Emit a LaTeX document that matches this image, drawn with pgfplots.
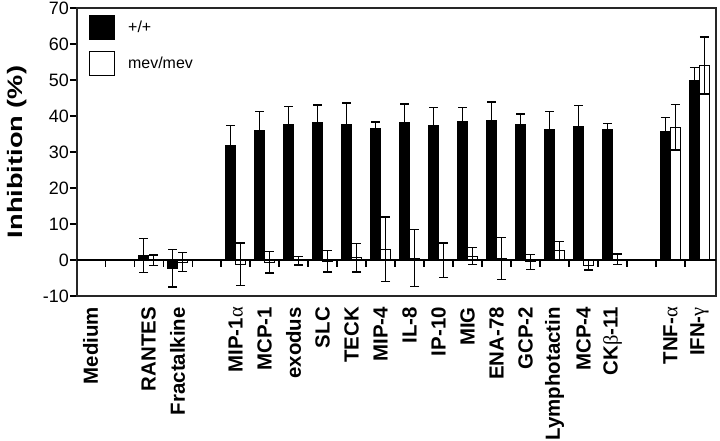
\documentclass[border=0pt]{standalone}
\usepackage{fontspec}
\setmainfont{Liberation Sans}
\newfontfamily\grk{Liberation Serif}
\usepackage{graphicx}
\usepackage{pgfplots}
\pgfplotsset{compat=1.18}
\usepackage{pgfplotstable}

\pgfplotstableread{
x  b      be    w      we
0  0      0     0      0
2  1.3    4.7   -0.1   1.5
3  -2.3   5.2   -0.6   2.6
5  31.9   5.5   -1.2   5.9
6  36.1   5.2   -0.65  3.0
7  37.7   5.0   -0.2   1.2
8  38.1   4.9   -0.3   3.0
9  37.7   5.9   0.6    3.9
10 36.4   1.9   3.0    8.95
11 38.1   5.2   0.55   7.85
12 37.4   5.0   -0.1   4.8
13 38.4   4.0   1.05   2.35
14 38.7   5.2   0.4    5.8
15 37.6   3.0   -0.55  2.05
16 36.25  5.0   2.6    2.5
17 37.2   5.7   -1.5   1.3
18 36.25  1.7   0.2    1.45
20 35.6   3.9   36.9   6.3
21 49.9   3.5   54.0   7.9
}\datatable

\newcommand{\gk}[1]{{\grk\mdseries #1}}

\begin{document}
\begin{tikzpicture}
\begin{axis}[
  scale only axis, width=639bp, height=288bp,
  xmin=-0.47, xmax=21.57, ymin=-10, ymax=70,
  ytick={-10,0,10,20,30,40,50,60,70},
  ytick pos=left,
  tick align=outside,
  major tick length=7bp,
  y tick style={line width=1.2bp, black},
  x tick style={draw=none},
  axis line style={line width=1.3bp, black!85},
  /pgf/number format/assume math mode=true,
  yticklabel style={font=\fontsize{18}{18}\selectfont, inner sep=1bp},
  xtick={0,2,3,5,6,7,8,9,10,11,12,13,14,15,16,17,18,20,21},
  xticklabels={Medium,RANTES,Fractalkine,MIP-1\gk{α},MCP-1,exodus,SLC,TECK,MIP-4,IL-8,IP-10,MIG,ENA-78,GCP-2,Lymphotactin,MCP-4,CK\gk{β}-11,TNF-\gk{α},IFN-\gk{γ}},
  xticklabel style={rotate=90, anchor=east, font=\fontsize{20.5}{20.5}\selectfont\bfseries, inner sep=0pt},
  xticklabel shift=4bp,
  ylabel={\scalebox{1.3}[1]{Inhibition (\%)}},
  every axis y label/.style={at={(rel axis cs:0,0.5)}, xshift=-60bp, rotate=90, anchor=center,
    font=\fontsize{21}{21}\selectfont\bfseries},
  ybar=0pt, bar width=10bp,
  legend style={at={(rel axis cs:0,1)}, anchor=north west, xshift=12bp, yshift=-7bp,
    draw=none, fill=none, inner sep=0pt, font=\fontsize{16}{16}\selectfont,
    row sep=11bp, /tikz/every odd column/.append style={column sep=11bp}},
  legend cell align=left,
]
\addplot[fill=black, draw=black, line width=1bp, bar shift=-5bp,
  legend image code/.code={\draw[fill=black,draw=black,line width=1bp] (0bp,-12bp) rectangle (25bp,12bp);},
  error bars/.cd, y dir=both, y explicit,
  error bar style={line width=1.4bp, black},
  error mark options={rotate=90, mark size=4.5bp, line width=1.4bp, black}]
  table[x=x, y=b, y error=be]{\datatable};
\addlegendentry{+/+}
\addplot[fill=white, draw=black, line width=1bp, bar shift=5bp,
  legend image code/.code={\draw[fill=white,draw=black,line width=1bp] (0bp,-12bp) rectangle (25bp,12bp);},
  error bars/.cd, y dir=both, y explicit,
  error bar style={line width=1.4bp, black},
  error mark options={rotate=90, mark size=4.5bp, line width=1.4bp, black}]
  table[x=x, y=w, y error=we]{\datatable};
\addlegendentry{mev/mev}
\draw[line width=1.2bp] (axis cs:-0.47,0) -- (axis cs:21.57,0);
\foreach \t in {0.5,1.5,2.5,3.5,4.5,5.5,6.5,7.5,8.5,9.5,10.5,11.5,12.5,13.5,14.5,15.5,16.5,17.5,18.5,19.5,20.5}{
  \edef\temp{\noexpand\draw[line width=1.2bp] (axis cs:\t,0) -- ++(0pt,-7bp);}\temp
}
\coordinate (SW) at (rel axis cs:0,0);
\coordinate (NE) at (rel axis cs:1,1);
\end{axis}
\pgfresetboundingbox
\path[use as bounding box] ([shift={(-77bp,-145bp)}]SW) rectangle ([shift={(4bp,8bp)}]NE);
\end{tikzpicture}
\end{document}
